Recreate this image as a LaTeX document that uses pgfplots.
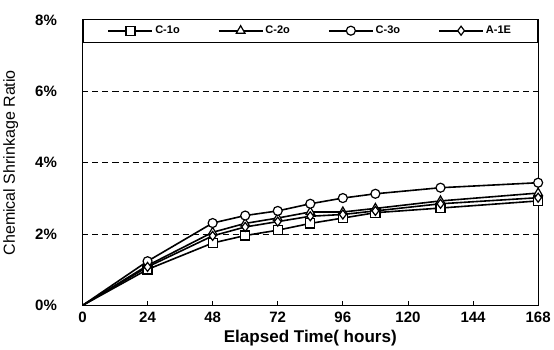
\documentclass[border=0pt]{standalone}
\usepackage{pgfplots}
\pgfplotsset{compat=1.18}
\usepackage{fontspec}
\setmainfont{Liberation Sans}
\begin{document}
\begin{tikzpicture}[x=1pt,y=1pt]
\begin{axis}[
  scale only axis,
  width=455pt, height=285pt,
  xmin=0, xmax=168, ymin=0, ymax=8,
  xtick={0,24,48,72,96,120,144,168},
  ytick={0,2,4,6,8},
  yticklabels={0\%,2\%,4\%,6\%,8\%},
  /pgf/number format/assume math mode=true,
  tick align=inside,
  major tick length=4pt,
  tick style={black, line width=0.8pt},
  ymajorgrids,
  major grid style={black, dashed, dash pattern=on 6pt off 4pt, line width=0.7pt},
  axis line style={black, line width=1.2pt},
  ticklabel style={font=\fontsize{15}{17}\selectfont\bfseries},
  xticklabel style={yshift=-3pt},
  yticklabel style={xshift=-22pt},
  xlabel={Elapsed Time( hours)},
  ylabel={Chemical Shrinkage Ratio},
  xlabel style={font=\fontsize{17}{19}\selectfont\bfseries, yshift=-1pt},
  ylabel style={font=\fontsize{16}{18}\selectfont, yshift=10pt},
  legend columns=4,
  legend style={at={(0.5,1.005)}, anchor=north, draw=black, line width=1pt,
    font=\fontsize{11}{13}\selectfont\bfseries, inner xsep=24pt, inner ysep=5pt,
    /tikz/every even column/.append style={column sep=36pt}},
  legend image code/.code={\draw[mark indices={2}] plot coordinates {(0pt,0pt) (22pt,0pt) (44pt,0pt)};},
  after end axis/.code={\path (rel axis cs:0,1) ++(0pt,20pt);},
]
\addplot[black, line width=1.6pt, mark=square*, mark size=4.5pt, mark indices={2,3,...,10}, mark options={solid, fill=white, draw=black, line width=1.2pt}] coordinates {
(0,0) (24,1.01) (48,1.75) (60,1.96) (72,2.11) (84,2.30) (96,2.45) (108,2.60) (132,2.73) (168,2.93)};
\addlegendentry{C-1o}
\addplot[black, line width=1.6pt, mark=triangle*, mark size=5pt, mark indices={2,3,...,10}, mark options={solid, fill=white, draw=black, line width=1.2pt}] coordinates {
(0,0) (24,1.12) (48,2.05) (60,2.30) (72,2.45) (84,2.62) (96,2.62) (108,2.72) (132,2.93) (168,3.15)};
\addlegendentry{C-2o}
\addplot[black, line width=1.6pt, mark=*, mark size=4.5pt, mark indices={2,3,...,10}, mark options={solid, fill=white, draw=black, line width=1.2pt}] coordinates {
(0,0) (24,1.24) (48,2.31) (60,2.52) (72,2.65) (84,2.85) (96,3.01) (108,3.13) (132,3.30) (168,3.44)};
\addlegendentry{C-3o}
\addplot[black, line width=1.6pt, mark=diamond*, mark size=4.5pt, mark indices={2,3,...,10}, mark options={solid, fill=white, draw=black, line width=1.2pt}] coordinates {
(0,0) (24,1.08) (48,1.95) (60,2.20) (72,2.35) (84,2.50) (96,2.55) (108,2.65) (132,2.85) (168,3.02)};
\addlegendentry{A-1E}
\end{axis}
\end{tikzpicture}
\end{document}
